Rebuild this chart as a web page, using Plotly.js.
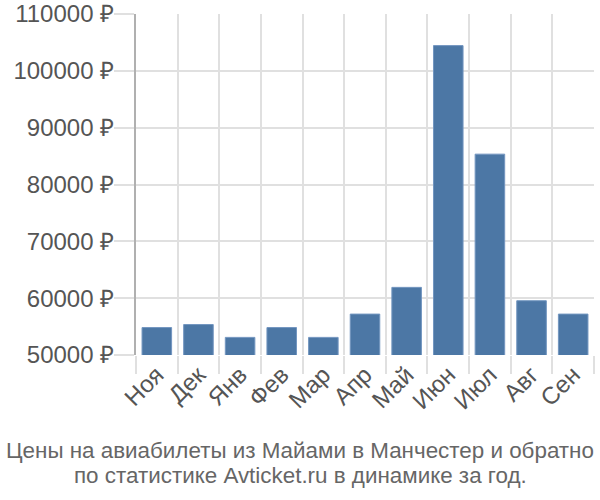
<!DOCTYPE html>
<html>
<head>
<meta charset="utf-8">
<script src="https://cdn.plot.ly/plotly-3.0.1.min.js"></script>
<style>html,body{margin:0;padding:0;background:#fff;}#chart{width:600px;height:500px;}</style>
</head>
<body>
<div id="chart"></div>
<script>
var months = ["Ноя","Дек","Янв","Фев","Мар","Апр","Май","Июн","Июл","Авг","Сен"];
var prices = [54830, 55360, 53100, 54830, 53100, 57200, 61900, 104440, 85340, 59550, 57200];
var yTicks = [50000, 60000, 70000, 80000, 90000, 100000, 110000];
var yTickLabels = ["50000 ₽","60000 ₽","70000 ₽","80000 ₽","90000 ₽","100000 ₽","110000 ₽"];
var titleLines = ["Цены на авиабилеты из Майами в Манчестер и обратно", "по статистике Avticket.ru в динамике за год."];

var data = [{
  type: "bar",
  x: months,
  y: prices,
  marker: {color: "#4c77a5", line: {color: "#7396c0", width: 1}},
  hoverinfo: "x+y"
}];

var fontFam = "Liberation Sans, Arial, sans-serif";
var titleY = [-0.2786, -0.3548];
var annotations = titleLines.map(function (t, i) {
  return {
    text: t, showarrow: false,
    xref: "paper", yref: "paper",
    x: (300 - 136) / 458, y: titleY[i],
    xanchor: "center", yanchor: "middle",
    font: {family: fontFam, size: 22.4, color: "#666"}
  };
});

var layout = {
  width: 600, height: 500,
  margin: {l: 136, r: 6, t: 14, b: 145},
  paper_bgcolor: "#fff", plot_bgcolor: "#fff",
  bargap: 0.29,
  showlegend: false,
  font: {family: fontFam, color: "#555", size: 24},
  annotations: annotations,
  xaxis: {
    type: "category",
    tickson: "boundaries",
    showgrid: true, gridcolor: "#e0e0e0", gridwidth: 2,
    ticks: "outside", ticklen: 18, tickcolor: "#e0e0e0", tickwidth: 2,
    tickangle: -45,
    tickfont: {size: 24, color: "#555"},
    showline: false, zeroline: false
  },
  yaxis: {
    range: [50000, 110000],
    tickvals: yTicks, ticktext: yTickLabels,
    showgrid: true, gridcolor: "#e0e0e0", gridwidth: 2,
    ticks: "outside", ticklen: 20, tickcolor: "#e0e0e0", tickwidth: 2,
    ticklabelstandoff: -5,
    tickfont: {size: 24, color: "#555"},
    showline: true, linecolor: "#b0b0b0", linewidth: 2,
    zeroline: false
  }
};

Plotly.newPlot("chart", data, layout, {displayModeBar: false, staticPlot: true});
</script>
</body>
</html>
